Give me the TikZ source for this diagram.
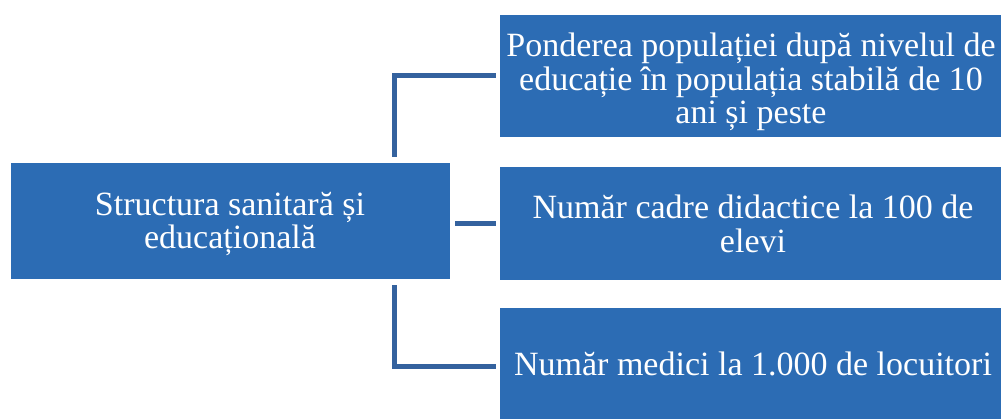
\documentclass[tikz,border=0pt]{standalone}
\usepackage{fontspec}
\setmainfont{Liberation Serif}
\definecolor{boxblue}{RGB}{44,108,180}
\definecolor{lineblue}{RGB}{52,98,158}
\begin{document}
\begin{tikzpicture}[x=1pt,y=-1pt,
  box/.style={fill=boxblue, draw=none, inner sep=0pt, minimum width=501pt},
  txt/.style={text=white, align=center, inner sep=0pt, font=\fontsize{34}{33.5}\selectfont},
  conn/.style={draw=lineblue, line width=5pt}]
\useasboundingbox (0,0) rectangle (1004,419);
\node[box, minimum width=439pt, minimum height=116pt] (s) at (230.5,221) {};
\node[txt] (st) at (230,224) {Structura sanitară și\\educațională};
\node[box, minimum height=122pt] (a) at (750.5,76) {};
\node[txt] (at) at (751,82) {Ponderea populației după nivelul de\\educație în populația stabilă de 10\\ani și peste};
\node[box, minimum height=113pt] (b) at (750.5,223.5) {};
\node[txt] (bt) at (753,224) {Număr cadre didactice la 100 de\\elevi};
\node[box, minimum height=118pt] (c) at (750.5,367) {};
\node[txt] (ct) at (753,364) {Număr medici la 1.000 de locuitori};
\coordinate (vx) at (394,0);
\draw[conn] ([yshift=6pt]s.north -| vx) |- ([xshift=-4pt]a.west);
\draw[conn] ([xshift=5pt]s.east |- b.west) -- ([xshift=-4pt]b.west);
\draw[conn] ([yshift=-6pt]s.south -| vx) |- ([xshift=-4pt]c.west);
\end{tikzpicture}
\end{document}
